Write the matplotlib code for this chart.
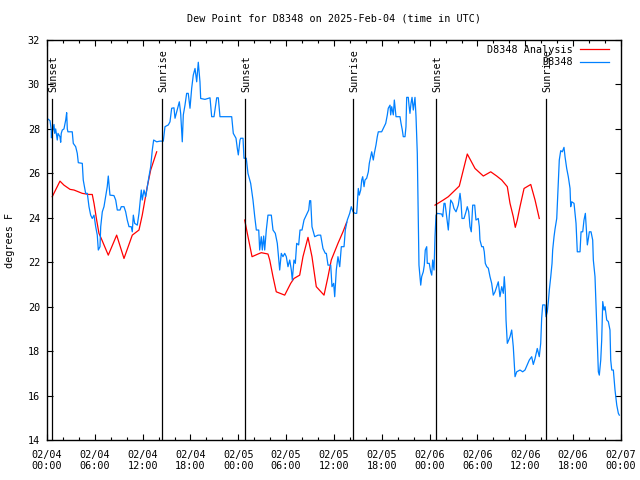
import numpy as np
import matplotlib
matplotlib.use('Agg')
import matplotlib.pyplot as plt
from matplotlib.ticker import MultipleLocator

# hours since 2025-02-04 00:00 UTC
obs_hours = [0.0, 0.38, 0.54, 0.55, 0.88, 0.97, 1.09, 1.29, 1.38, 1.63, 1.72, 1.79, 1.92, 2.13, 2.35, 2.47,
             2.55, 2.63, 3.17, 3.30, 3.60, 3.80, 3.93, 4.43, 4.55, 4.85, 5.06, 5.27, 5.48, 5.68, 5.90, 6.11,
             6.31, 6.44, 6.65, 6.74, 6.94, 7.15, 7.36, 7.56, 7.69, 7.90, 8.40, 8.62, 8.82, 9.16, 9.32, 9.66,
             9.87, 10.07, 10.29, 10.57, 10.70, 10.83, 11.00, 11.33, 11.54, 11.67, 11.83, 11.95, 12.17, 12.38,
             12.58, 12.79, 13.01, 13.21, 13.38, 13.76, 14.17, 14.59, 14.80, 15.22, 15.43, 15.64, 15.93, 16.06,
             16.27, 16.60, 16.77, 16.97, 17.10, 17.31, 17.52, 17.72, 17.94, 18.15, 18.35, 18.57, 18.78, 18.98,
             19.19, 19.28, 19.82, 20.45, 20.66, 20.95, 21.29, 21.49, 21.70, 23.17, 23.37, 23.71, 23.87, 24.00,
             24.21, 24.30, 24.59, 24.71, 25.00, 25.21, 25.55, 25.84, 26.06, 26.26, 26.56, 26.68, 26.88, 27.01,
             27.18, 27.31, 27.51, 27.72, 28.14, 28.35, 28.64, 28.89, 29.19, 29.39, 29.60, 29.82, 30.02, 30.23,
             30.45, 30.65, 30.77, 30.98, 31.15, 31.32, 31.57, 31.74, 31.99, 32.24, 32.53, 32.83, 32.95, 33.08,
             33.24, 33.58, 34.00, 34.33, 34.62, 34.91, 35.04, 35.25, 35.59, 35.75, 35.96, 36.09, 36.29, 36.50,
             36.72, 36.92, 37.26, 37.42, 37.67, 37.97, 38.17, 38.39, 38.64, 38.85, 38.92, 39.05, 39.17, 39.35,
             39.48, 39.60, 39.77, 39.89, 40.10, 40.31, 40.43, 40.61, 40.73, 40.93, 41.06, 41.27, 41.43, 41.56,
             41.98, 42.18, 42.49, 42.69, 42.81, 43.03, 43.11, 43.24, 43.44, 43.57, 43.78, 44.28, 44.41, 44.57,
             44.69, 44.91, 45.03, 45.12, 45.32, 45.41, 45.53, 45.66, 45.79, 45.95, 46.16, 46.29, 46.45, 46.58,
             46.66, 46.88, 47.00, 47.20, 47.33, 47.45, 47.63, 47.70, 47.95, 48.13, 48.26, 48.38, 48.55, 48.67,
             48.80, 48.96, 49.51, 49.64, 49.80, 49.93, 50.14, 50.34, 50.47, 50.64, 50.89, 51.05, 51.31, 51.59,
             51.81, 51.93, 52.06, 52.31, 52.56, 52.72, 52.90, 53.06, 53.22, 53.40, 53.65, 53.81, 54.10, 54.23,
             54.31, 54.53, 54.73, 54.85, 54.98, 55.16, 55.36, 55.57, 55.78, 55.98, 56.20, 56.41, 56.61, 56.82,
             57.04, 57.24, 57.36, 57.49, 57.58, 57.74, 57.92, 58.08, 58.29, 58.49, 58.71, 58.92, 59.33, 59.67,
             59.96, 60.50, 60.80, 61.00, 61.22, 61.50, 61.75, 61.93, 62.05, 62.18, 62.47, 62.59, 62.76, 62.89,
             63.01, 63.19, 63.35, 63.43, 63.60, 63.72, 63.94, 64.14, 64.26, 64.44, 64.64, 64.85, 64.98, 65.19,
             65.39, 65.61, 65.69, 65.82, 66.11, 66.23, 66.36, 66.52, 66.86, 66.99, 67.20, 67.36, 67.53, 67.61,
             67.78, 67.91, 68.03, 68.24, 68.45, 68.53, 68.74, 68.87, 69.03, 69.16, 69.28, 69.46, 69.58, 69.71,
             69.87, 70.00, 70.21, 70.41, 70.62, 70.71, 70.84, 71.04, 71.25, 71.47, 71.67, 71.79]
obs_dewpt = [28.48, 28.37, 27.95, 27.6, 28.2, 27.8, 28.0, 27.5, 27.8, 27.65, 27.4, 27.8, 27.95, 28.0, 28.4, 28.73,
             28.0, 27.87, 27.87, 27.35, 27.2, 26.9, 26.48, 26.45, 25.7, 25.1, 25.1, 24.5, 24.12, 23.97, 24.12, 23.6,
             23.22, 22.55, 22.7, 23.6, 24.27, 24.5, 24.95, 25.4, 25.88, 25.02, 25.0, 24.8, 24.35, 24.35, 24.5, 24.5,
             24.27, 23.9, 23.6, 23.6, 23.37, 24.12, 23.75, 23.67, 24.2, 24.65, 25.25, 24.8, 25.25, 24.95,
             25.4, 25.85, 26.3, 27.05, 27.5, 27.42, 27.45, 27.45, 28.1, 28.18, 28.32, 28.93, 28.95, 28.48,
             28.77, 29.22, 28.7, 27.42, 28.63, 29.07, 29.6, 29.6, 28.93, 29.83, 30.42, 30.72, 30.12, 31.0,
             30.12, 29.37, 29.33, 29.4, 28.55, 28.55, 29.4, 29.4, 28.55, 28.55, 27.8, 27.58, 27.13, 26.83,
             27.5, 27.58, 27.58, 26.68, 26.68, 26.0, 25.55, 24.8, 24.05, 23.45, 23.45, 22.55, 23.15, 22.55,
             23.18, 22.55, 23.45, 24.12, 24.12, 23.45, 23.3, 22.85, 21.65, 22.4, 22.25, 22.4, 22.25, 21.8,
             22.1, 21.65, 21.2, 22.1, 21.95, 22.85, 22.78, 23.45, 23.45, 23.9, 24.12, 24.35, 24.77, 24.77,
             23.6, 23.15, 23.22, 23.22, 22.62, 22.4, 22.4, 21.87, 21.87, 20.9, 21.05, 20.45, 21.65, 22.25,
             21.8, 22.7, 22.7, 23.45, 23.9, 24.2, 24.5, 24.27, 24.2, 24.2, 24.57, 25.32, 25.02, 25.25,
             25.7, 25.85, 25.4, 25.7, 25.78, 26.07, 26.45, 26.75, 26.97, 26.6, 26.9, 27.28, 27.65, 27.87,
             27.87, 28.02, 28.25, 28.63, 28.93, 29.07, 28.63, 29.0, 28.63, 29.3, 28.55, 28.55, 28.25, 27.95,
             27.65, 27.65, 28.1, 29.42, 29.42, 29.07, 28.7, 29.15, 29.42, 28.85, 29.42, 28.55, 26.9, 23.75,
             21.87, 20.97, 21.35, 21.57, 21.87, 22.55, 22.7, 21.95, 21.95, 21.57, 21.42, 22.1, 21.65, 23.15,
             24.12, 24.2, 24.17, 24.05, 24.65, 24.65, 24.05, 23.45, 24.12, 24.8, 24.65, 24.42, 24.27, 24.57,
             25.1, 24.72, 23.97, 23.97, 24.27, 24.5, 24.27, 23.6, 23.37, 24.57, 24.57, 23.9, 23.97, 23.6,
             23.0, 22.7, 22.7, 22.47, 21.95, 21.8, 21.73, 21.35, 21.05, 20.52, 20.67, 20.9, 21.12, 20.45,
             20.9, 20.6, 21.35, 20.67, 19.4, 18.35, 18.5, 18.65, 18.95, 18.2, 16.85, 17.07, 17.15, 17.07,
             17.15, 17.6, 17.75, 17.4, 17.67, 18.12, 17.75, 18.35, 19.48, 20.08, 20.08, 19.55, 19.78, 20.23,
             20.75, 21.35, 21.95, 22.55, 23.15, 23.48, 23.97, 25.55, 26.6, 27.02, 26.97, 27.17, 26.75, 26.22,
             25.85, 25.32, 24.5, 24.72, 24.65, 24.2, 23.75, 22.47, 22.47, 23.37, 23.37, 23.9, 24.2, 23.75,
             22.78, 23.07, 23.37, 23.37, 23.0, 22.1, 21.35, 20.08, 18.42, 17.07, 16.92, 17.6, 18.5, 20.23,
             19.85, 20.0, 19.4, 19.33, 18.95, 17.6, 17.15, 17.15, 16.25, 15.57, 15.2, 15.12]

# analysis, three runs separated by gaps
ana_hours = [0.66, 1.63, 2.13, 2.89, 3.39, 4.43, 5.27, 5.68, 5.90, 6.23, 6.52, 6.81, 7.69, 8.74, 9.66, 10.70,
             11.54, 11.95, 12.58, 13.01, 13.42, 13.76, np.nan,
             24.80, 25.13, 25.72, 26.47, 26.88, 27.72, 27.94, 28.35, 28.76, 29.82, 30.57, 30.98, 31.70, 32.11,
             32.74, 33.24, 33.78, 34.75, 35.25, 35.66, 36.50, 37.13, 37.59, np.nan,
             48.67, 49.71, 50.34, 51.72, 52.72, 53.69, 54.73, 55.66, 56.41, 57.04, 57.74, 58.08, 58.49, 58.74,
             58.99, 59.33, 59.84, 60.68, 61.22, 61.75]
ana_dewpt = [24.95, 25.65, 25.47, 25.28, 25.25, 25.1, 25.05, 25.05, 24.65, 23.9, 23.3, 23.07, 22.32, 23.22, 22.17, 23.22,
             23.45, 24.12, 25.4, 26.15, 26.6, 26.97, np.nan,
             23.9, 23.3, 22.25, 22.37, 22.43, 22.37, 22.1, 21.35, 20.67, 20.52, 21.05, 21.27, 21.42, 22.25,
             23.12, 22.25, 20.9, 20.52, 21.35, 22.1, 22.85, 23.37, 23.8, np.nan,
             24.57, 24.8, 24.95, 25.43, 26.87, 26.22, 25.88, 26.07, 25.88, 25.7, 25.4, 24.65, 24.05, 23.57,
             23.9, 24.5, 25.32, 25.5, 24.8, 23.97]

sun_hours = [0.66, 14.46, 24.80, 38.42, 48.83, 62.56]
sun_labels = ['Sunset', 'Sunrise', 'Sunset', 'Sunrise', 'Sunset', 'Sunrise']

tick_hours = list(range(0, 73, 6))
tick_labels = ['02/04\n00:00', '02/04\n06:00', '02/04\n12:00', '02/04\n18:00',
               '02/05\n00:00', '02/05\n06:00', '02/05\n12:00', '02/05\n18:00',
               '02/06\n00:00', '02/06\n06:00', '02/06\n12:00', '02/06\n18:00',
               '02/07\n00:00']

plt.rcParams['font.family'] = 'DejaVu Sans Mono'
plt.rcParams['font.size'] = 7.3

fig = plt.figure(figsize=(6.4, 4.8), dpi=100)
ax = fig.add_axes([0.0734, 0.0833, 0.8969, 0.8333])

ax.plot(ana_hours, ana_dewpt, color='#ff0000', lw=0.9, label='D8348 Analysis')
ax.plot(obs_hours, obs_dewpt, color='#0080ff', lw=0.9, label='D8348')

for h, lab in zip(sun_hours, sun_labels):
    ax.plot([h, h], [14, 29.35], color='black', lw=0.9)
    ax.text(h + 0.15, 29.68, lab, rotation=90, ha='center', va='bottom')

ax.set_xlim(0, 72)
ax.set_ylim(14, 32)
ax.set_xticks(tick_hours)
ax.set_xticklabels(tick_labels)
ax.xaxis.set_minor_locator(MultipleLocator(2))
ax.yaxis.set_major_locator(MultipleLocator(2))
ax.tick_params(which='both', direction='in', top=True, right=True, width=0.8)
ax.tick_params(which='major', length=4)
ax.tick_params(which='minor', length=2.5)
ax.tick_params(axis='x', which='major', pad=7)
ax.tick_params(axis='y', which='major', pad=5)
for s in ax.spines.values():
    s.set_linewidth(1.0)

ax.set_title('Dew Point for D8348 on 2025-Feb-04 (time in UTC)', fontsize=7.3, pad=13)
ax.set_ylabel('degrees F', labelpad=9)

ax.legend(loc='upper right', bbox_to_anchor=(0.992, 1.006), frameon=False, markerfirst=False,
          handlelength=2.9, handletextpad=0.7, borderaxespad=0.3, labelspacing=0.25)

fig.savefig('out.png', dpi=100)
